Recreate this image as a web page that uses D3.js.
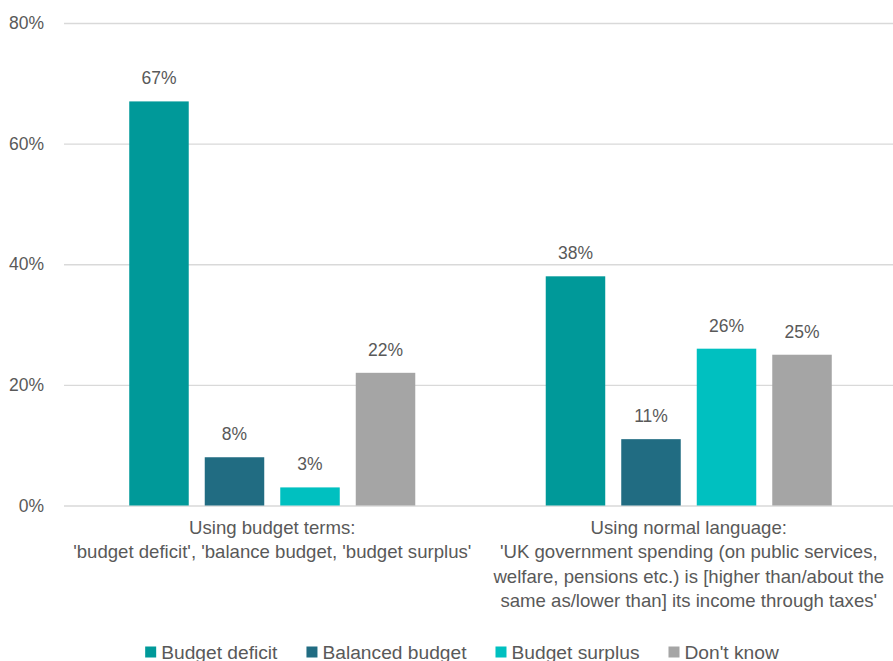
<!DOCTYPE html>
<head>
    <title>Budget terms vs normal language</title>
    <script src="https://d3js.org/d3.v7.min.js"></script>
</head>
<style>
body {
  margin: 0;
  background: #fff;
  font-family: "Liberation Sans", Arial, sans-serif;
}
</style>
<body>
    <svg></svg>
</body>

<script>

    // Data
    var categories = [
        ["Using budget terms:", "'budget deficit', 'balance budget, 'budget surplus'"],
        ["Using normal language:", "'UK government spending (on public services,",
         "welfare, pensions etc.) is [higher than/about the", "same as/lower than] its income through taxes'"]
    ];
    var series = ["Budget deficit", "Balanced budget", "Budget surplus", "Don't know"];
    var budgetDeficit = [67, 38];
    var balancedBudget = [8, 11];
    var budgetSurplus = [3, 26];
    var dontKnow = [22, 25];
    var yTicks = [0, 20, 40, 60, 80];

    var values = [budgetDeficit, balancedBudget, budgetSurplus, dontKnow];
    var colors = ["#009999", "#216c82", "#00c0c0", "#a5a5a5"];

    // Variables
    var width = 893;
    var height = 661;
    var textColor = "#595959";
    var fontSize = 17.5;     // numbers
    var labelSize = 18.6;    // category labels
    var legendSize = 19.2;   // legend

    var svg = d3.select('svg')
        .attr('width', width)
        .attr('height', height);

    var y = d3.scaleLinear()
        .domain([0, 80])
        .range([505.5, 23]);

    var x0 = d3.scaleBand()
        .domain(d3.range(categories.length))
        .range([64, 897]);

    var x1 = d3.scaleBand()
        .domain(d3.range(series.length))
        .range([0, x0.bandwidth()])
        .paddingInner(0.212)
        .paddingOuter(0.864);

    // Gridlines + y tick labels
    var yAxis = svg.append('g')
        .attr('transform', 'translate(64,0)')
        .call(d3.axisLeft(y).tickValues(yTicks).tickSize(-(width - 64)).tickFormat(function (d) { return d + "%"; }));
    yAxis.select('.domain').remove();
    yAxis.selectAll('.tick line')
        .attr('stroke', '#d9d9d9')
        .attr('stroke-width', 1.4);
    yAxis.selectAll('.tick text')
        .attr('x', -20)
        .attr('fill', textColor)
        .style('font-size', fontSize + 'px')
        .style('font-family', '"Liberation Sans", Arial, sans-serif');

    // Bars
    var groups = svg.selectAll('.group')
        .data(categories)
        .enter().append('g')
        .attr('class', 'group')
        .attr('transform', function (d, i) { return 'translate(' + x0(i) + ',0)'; });

    groups.each(function (c, ci) {
        var g = d3.select(this);
        var rows = series.map(function (s, si) { return { s: si, v: values[si][ci] }; });

        g.selectAll('rect')
            .data(rows)
            .enter().append('rect')
            .attr('x', function (d) { return x1(d.s); })
            .attr('y', function (d) { return y(d.v); })
            .attr('width', x1.bandwidth())
            .attr('height', function (d) { return y(0) - y(d.v); })
            .attr('fill', function (d) { return colors[d.s]; });

        g.selectAll('text.val')
            .data(rows)
            .enter().append('text')
            .attr('class', 'val')
            .attr('x', function (d) { return x1(d.s) + x1.bandwidth() / 2; })
            .attr('y', function (d) { return y(d.v) - 17; })
            .attr('text-anchor', 'middle')
            .attr('fill', textColor)
            .style('font-size', fontSize + 'px')
            .text(function (d) { return d.v + "%"; });
    });

    // Category labels
    var xAxis = svg.append('g')
        .attr('transform', 'translate(0,' + y(0) + ')')
        .call(d3.axisBottom(x0).tickSize(0).tickFormat(''));
    xAxis.select('.domain').remove();
    xAxis.selectAll('.tick').each(function (d) {
        var t = d3.select(this).append('text')
            .attr('text-anchor', 'middle')
            .attr('fill', textColor)
            .style('font-size', labelSize + 'px');
        t.selectAll('tspan')
            .data(categories[d])
            .enter().append('tspan')
            .attr('x', 0)
            .attr('y', function (l, i) { return 28 + i * 24.6; })
            .text(function (l) { return l; });
    });

    // Legend
    var legend = svg.append('g').attr('transform', 'translate(0,652)');
    var items = legend.selectAll('g')
        .data(series)
        .enter().append('g');
    items.append('rect')
        .attr('y', -5.5)
        .attr('width', 11)
        .attr('height', 11)
        .attr('fill', function (d, i) { return colors[i]; });
    items.append('text')
        .attr('x', 16)
        .attr('y', 6.5)
        .attr('fill', textColor)
        .style('font-size', legendSize + 'px')
        .text(function (d) { return d; });

    var pos = 0;
    var offsets = [];
    items.each(function () {
        offsets.push(pos);
        pos += 16 + this.querySelector('text').getComputedTextLength() + 29;
    });
    var total = pos - 29;
    var start = 462 - total / 2;
    items.attr('transform', function (d, i) { return 'translate(' + (start + offsets[i]) + ',0)'; });

</script>
